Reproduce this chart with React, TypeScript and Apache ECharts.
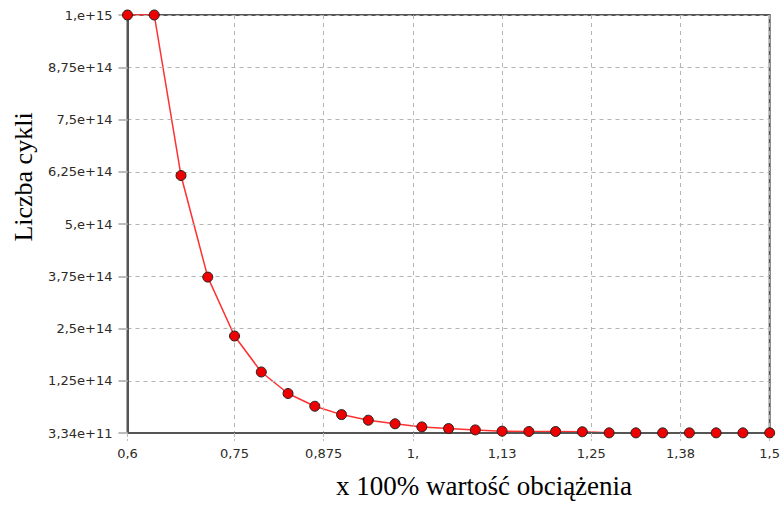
import React, { useEffect, useRef } from "react";
import * as echarts from "echarts";

const xValues = [
  0.6, 0.6375, 0.675, 0.7125, 0.75, 0.7875, 0.825, 0.8625, 0.9, 0.9375,
  0.975, 1.0125, 1.05, 1.0875, 1.125, 1.1625, 1.2, 1.2375, 1.275, 1.3125,
  1.35, 1.3875, 1.425, 1.4625, 1.5,
];
const yValues = [
  1e15, 1e15, 6.16e14, 3.73e14, 2.32e14, 1.46e14, 9.45e13, 6.4e13, 4.4e13, 3.06e13,
  2.2e13, 1.46e13, 1.07e13, 7.4e12, 4.3e12, 3.6e12, 3.6e12, 3.0e12, 3.34e11, 3.34e11,
  3.34e11, 3.34e11, 3.34e11, 3.34e11, 3.34e11,
];
const xTickValues = [0.6, 0.75, 0.875, 1, 1.125, 1.25, 1.375, 1.5];
const xTickLabels = ["0,6", "0,75", "0,875", "1,", "1,13", "1,25", "1,38", "1,5"];
const yTickLabels = [
  "3,34e+11", "1,25e+14", "2,5e+14", "3,75e+14", "5,e+14",
  "6,25e+14", "7,5e+14", "8,75e+14", "1,e+15",
];
const yInterval = 1.25e14;
const xTitle = "x 100% wartość obciążenia";
const yTitle = "Liczba cykli";

export default function App() {
  const ref = useRef<HTMLDivElement>(null);
  useEffect(() => {
    if (!ref.current) return;
    const chart = echarts.init(ref.current, undefined, { renderer: "svg" });
    const tickText = { fontFamily: "DejaVu Sans", fontSize: 13, color: "#2e2a26" };
    const points = xValues.map((x, i) => [x, yValues[i]]);
    chart.setOption({
      animation: false,
      backgroundColor: "#ffffff",
      grid: {
        left: 127.5,
        right: 12,
        top: 15,
        bottom: 73,
        show: true,
        borderColor: "#555",
        borderWidth: 2,
        backgroundColor: "transparent",
      },
      xAxis: {
        type: "value",
        min: 0.6,
        max: 1.5,
        z: 2,
        axisLine: { show: true, lineStyle: { color: "#555", width: 2 } },
        axisTick: {
          show: true,
          customValues: xTickValues,
          length: 8,
          lineStyle: { color: "#bbb", type: "dashed" },
        },
        axisLabel: {
          ...tickText,
          margin: 14,
          customValues: xTickValues,
          formatter: (v: number) => {
            let best = 0;
            xTickValues.forEach((t, i) => {
              if (Math.abs(t - v) < Math.abs(xTickValues[best] - v)) best = i;
            });
            return xTickLabels[best];
          },
        },
        splitLine: { show: true, lineStyle: { color: "#b4b4b4", type: [4, 4], width: 1 } },
      },
      yAxis: {
        type: "value",
        min: 0,
        max: 1e15,
        interval: yInterval,
        z: 2,
        axisLine: { show: true, lineStyle: { color: "#555", width: 2 } },
        axisTick: { show: true, length: 9, lineStyle: { color: "#bbb", width: 2 } },
        axisLabel: {
          ...tickText,
          margin: 15,
          formatter: (v: number) => yTickLabels[Math.round(v / yInterval)] ?? "",
        },
        splitLine: { show: true, lineStyle: { color: "#b4b4b4", type: [4, 4], width: 1 } },
      },
      series: [
        {
          type: "line",
          z: 1,
          data: points,
          lineStyle: { color: "#ff3030", width: 1.5 },
          showSymbol: false,
          symbol: "none",
          clip: false,
        },
        {
          type: "scatter",
          z: 3,
          data: points,
          symbol: "circle",
          symbolSize: 10,
          itemStyle: { color: "#ee0000", borderColor: "#222", borderWidth: 1, opacity: 1 },
          clip: false,
        },
      ],
      graphic: [
        {
          type: "text",
          x: 484,
          y: 499,
          style: {
            text: xTitle,
            font: "27px 'Liberation Serif'",
            fill: "#000",
            textAlign: "center",
            textVerticalAlign: "bottom",
          },
        },
        {
          type: "text",
          x: 23,
          y: 177,
          rotation: Math.PI / 2,
          style: {
            text: yTitle,
            font: "26px 'Liberation Serif'",
            fill: "#000",
            textAlign: "center",
            textVerticalAlign: "middle",
          },
        },
      ],
    });
    return () => chart.dispose();
  }, []);
  return <div ref={ref} style={{ width: 783, height: 506, position: "absolute", left: 0, top: 0 }} />;
}
